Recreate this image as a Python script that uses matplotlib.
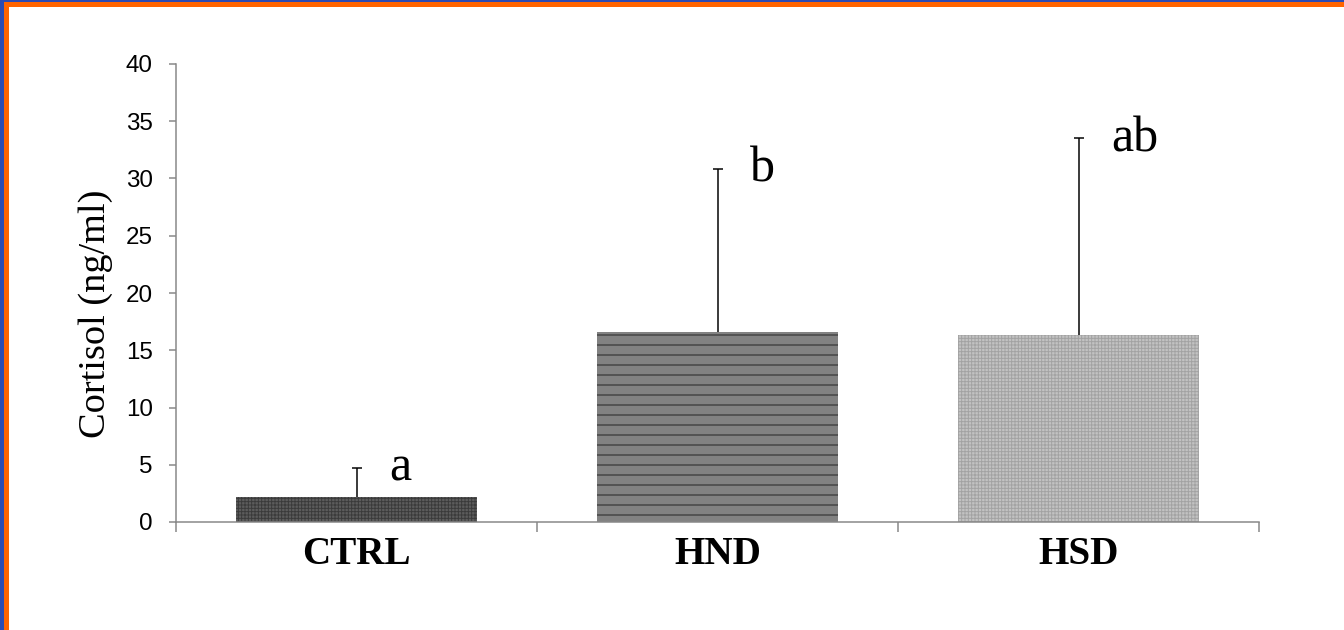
import matplotlib
matplotlib.use("Agg")
import matplotlib.pyplot as plt
from matplotlib.patches import Rectangle
import numpy as np

# Data
groups = ["CTRL", "HND", "HSD"]
cortisol_mean = [2.2, 16.6, 16.3]
cortisol_err = [2.5, 14.2, 17.2]
sig_letters = ["a", "b", "ab"]

# dpi 60 so the '-' hatch spacing matches the 10 px stripes of the original
DPI = 60
W, H = 1344, 630
plt.rcParams["hatch.linewidth"] = 1.1

fig = plt.figure(figsize=(W / DPI, H / DPI), dpi=DPI)
ax = fig.add_axes([176 / W, 1 - 522 / H, (1259 - 176) / W, (522 - 64) / H])

x = np.arange(len(groups))
faces = ["#5c5c5c", "#828282", "#c2c2c2"]
hatch_cols = ["#3a3a3a", "#1e1e1e", "#a2a2a2"]
hatches = ["+++", "-", "+++"]

for i in range(len(groups)):
    ax.bar(x[i], cortisol_mean[i], width=0.67, color=faces[i],
           edgecolor=hatch_cols[i], hatch=hatches[i], linewidth=0, zorder=2)

# upper error bars only
_, caps, _ = ax.errorbar(x, cortisol_mean, yerr=[np.zeros(len(x)), cortisol_err],
                         fmt="none", ecolor="black", elinewidth=1.8, capsize=6,
                         capthick=1.8, zorder=3)
for c in caps:
    if np.allclose(c.get_ydata(), cortisol_mean):
        c.set_visible(False)

# significance letters
for i, lab in enumerate(sig_letters):
    top = cortisol_mean[i] + cortisol_err[i]
    ax.text(x[i] + 0.09, top - 1.1, lab, fontsize=60, family="Liberation Serif",
            ha="left", va="baseline")

ax.set_xlim(-0.5, 2.5)
ax.set_ylim(0, 40)
ax.set_yticks(range(0, 41, 5))

grey = "#878787"
for s in ["top", "right"]:
    ax.spines[s].set_visible(False)
for s in ["left", "bottom"]:
    ax.spines[s].set_color(grey)
    ax.spines[s].set_linewidth(1.8)

ax.tick_params(axis="y", length=9, width=1.8, color=grey, pad=19,
               labelsize=29)
for t in ax.get_yticklabels():
    t.set_family("Liberation Sans")

ax.set_xticks(x)
ax.set_xticklabels(groups, fontsize=47, family="Liberation Serif",
                   fontweight="bold")
ax.set_xticks(np.arange(-0.5, 2.6, 1), minor=True)
ax.tick_params(axis="x", which="major", length=0, pad=17)
ax.tick_params(axis="x", which="minor", length=12, width=1.8, color=grey)

ax.set_ylabel("Cortisol (ng/ml)", fontsize=46, family="Liberation Serif")
ax.yaxis.set_label_coords(-0.058, 0.455)


# frame strips at the left and top edges
def px_rect(x0, y0, w, h, color):
    fig.patches.append(Rectangle((x0 / W, 1 - (y0 + h) / H), w / W, h / H,
                                 transform=fig.transFigure, facecolor=color,
                                 linewidth=0, zorder=10))


blue = "#2b4bb3"
orange = "#ff6400"
px_rect(0, 0, 4, H, blue)
px_rect(0, 0, W, 2, blue)
px_rect(4, 2, 5, H, orange)
px_rect(4, 2, W, 5, orange)

fig.savefig("out.png", dpi=DPI)
